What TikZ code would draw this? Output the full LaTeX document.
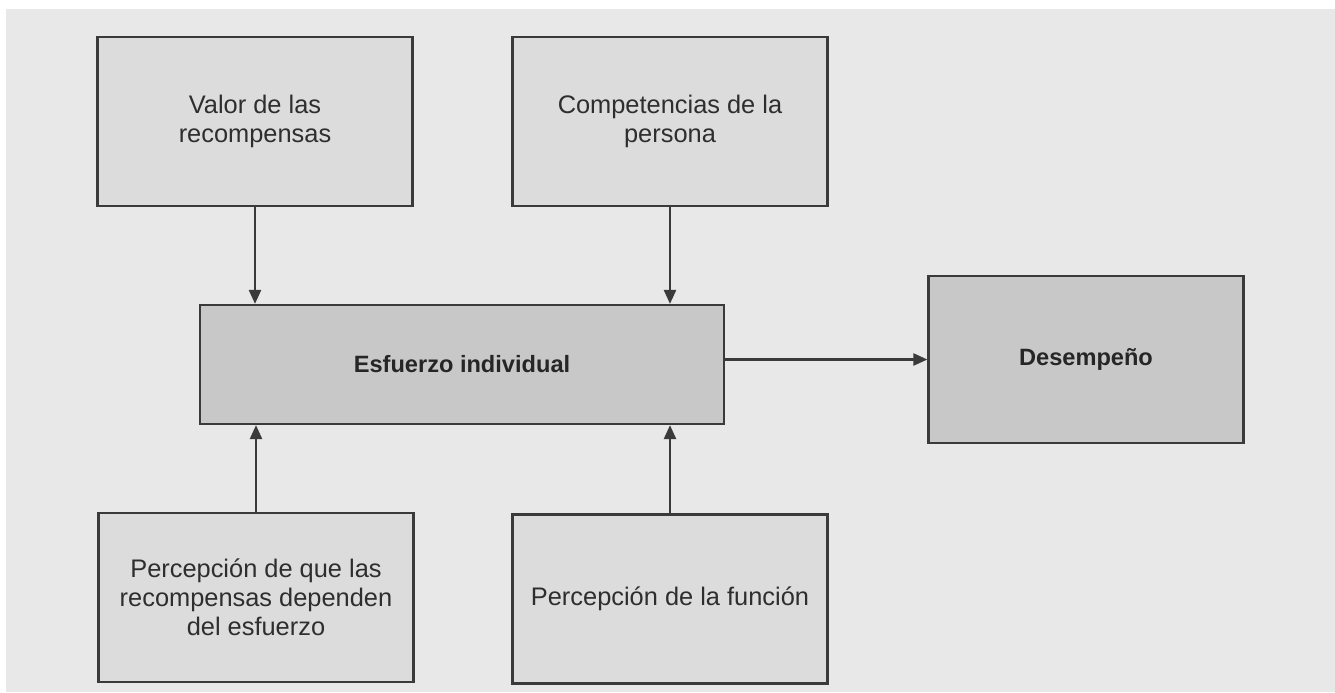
\documentclass[tikz,border=0pt]{standalone}
\usepackage{fontspec}
\setmainfont{Liberation Sans}
\usetikzlibrary{arrows.meta,positioning}
\definecolor{bggray}{HTML}{E8E8E8}
\definecolor{boxlight}{HTML}{DCDCDC}
\definecolor{boxdark}{HTML}{C8C8C8}
\definecolor{boxline}{HTML}{3A3A3A}
\definecolor{txtgray}{HTML}{2E2E2E}

\begin{document}
\begin{tikzpicture}[x=0.5pt, y=-0.5pt]
		\useasboundingbox (0,0) rectangle (1335,692);
		\fill[bggray] (6,9) rectangle (1335,692);
		\begin{scope}[every node/.style={draw=boxline, line width=1.1pt, fill=boxlight, align=center, text=txtgray, inner sep=0pt, minimum width=157.5pt, minimum height=84.5pt, font=\fontsize{12.7}{14.5}\selectfont}]
			\node (val) at (255,121.5) {Valor de las\\recompensas};
			\node (comp) at (670,121.5) {Competencias de la\\persona};
			\node (perc) at (256,597.5) {Percepción de que las\\recompensas dependen\\del esfuerzo};
			\node (func) at (670,599) {Percepción de la función};
			\node[fill=boxdark, minimum width=262pt, minimum height=59.5pt, text=black!85, font=\fontsize{11.8}{14.5}\selectfont\bfseries] (esf) at (462,364.5) {Esfuerzo individual};
			\node[fill=boxdark, minimum height=83.5pt, text=black!85, font=\fontsize{11.8}{14.5}\selectfont\bfseries] (des) at (1086,359.5) {Desempeño};
		\end{scope}
		\begin{scope}[every edge/.style={draw=boxline, line width=1.2pt, -{Triangle[length=7pt,width=6pt]}}]
			\path (val.south) edge (val.south |- esf.north);
			\path (comp.south) edge (comp.south |- esf.north);
			\path (perc.north) edge (perc.north |- esf.south);
			\path (func.north) edge (func.north |- esf.south);
			\path (esf.east |- des.west) edge (des.west);
		\end{scope}
	\end{tikzpicture}
\end{document}
